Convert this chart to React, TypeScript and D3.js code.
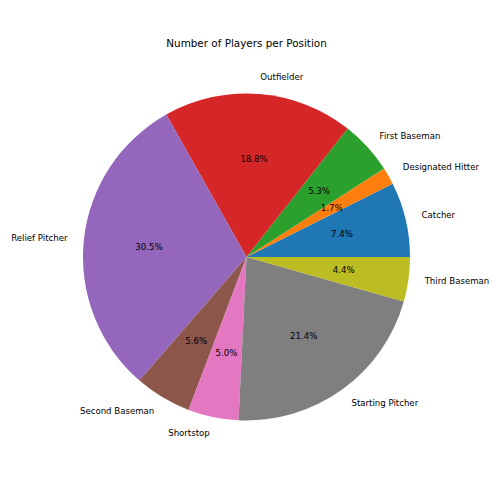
import * as d3 from "d3";

const positions = [
  "Catcher",
  "Designated Hitter",
  "First Baseman",
  "Outfielder",
  "Relief Pitcher",
  "Second Baseman",
  "Shortstop",
  "Starting Pitcher",
  "Third Baseman",
];
const shares = [7.4, 1.7, 5.3, 18.8, 30.5, 5.6, 5.0, 21.4, 4.4];
const colors = [
  "#1f77b4",
  "#ff7f0e",
  "#2ca02c",
  "#d62728",
  "#9467bd",
  "#8c564b",
  "#e377c2",
  "#7f7f7f",
  "#bcbd22",
];

const W = 500;
const H = 500;
const cx = 246.5;
const cy = 257;
const radius = 163.5;
const font = "'DejaVu Sans', sans-serif";

export default function App() {
  const rows = positions.map((name, i) => ({ name, value: shares[i], color: colors[i] }));
  const total = d3.sum(shares);

  // start at 3 o'clock and go counterclockwise, like matplotlib
  const angle = d3
    .scaleLinear()
    .domain([0, total])
    .range([0, 2 * Math.PI]);

  let acc = 0;
  const slices = rows.map((r) => {
    const a0 = angle(acc);
    acc += r.value;
    const a1 = angle(acc);
    return { ...r, a0, a1 };
  });

  // d3.arc measures clockwise from 12 o'clock, so convert
  const arc = d3
    .arc<{ a0: number; a1: number }>()
    .innerRadius(0)
    .outerRadius(radius)
    .startAngle((d) => Math.PI / 2 - d.a1)
    .endAngle((d) => Math.PI / 2 - d.a0);

  return (
    <svg width={W} height={H} style={{ display: "block", margin: -8 }}>
      <rect width={W} height={H} fill="#fff" />
      <text
        x={cx}
        y={44}
        textAnchor="middle"
        dominantBaseline="middle"
        fontSize={10.4}
        fontFamily={font}
        fill="#000"
      >
        Number of Players per Position
      </text>
      <g transform={`translate(${cx},${cy})`}>
        {slices.map((s) => (
          <path key={s.name} d={arc(s) || ""} fill={s.color} />
        ))}
        {slices.map((s) => {
          const mid = (s.a0 + s.a1) / 2;
          const lx = Math.cos(mid) * radius * 1.1;
          const ly = -Math.sin(mid) * radius * 1.1;
          const px = Math.cos(mid) * radius * 0.6;
          const py = -Math.sin(mid) * radius * 0.6;
          return (
            <g key={s.name + "-lbl"}>
              <text
                x={lx}
                y={ly}
                textAnchor={lx >= 0 ? "start" : "end"}
                dominantBaseline="middle"
                fontSize={8.6}
                fontFamily={font}
                fill="#000"
              >
                {s.name}
              </text>
              <text
                x={px}
                y={py}
                textAnchor="middle"
                dominantBaseline="middle"
                fontSize={8.6}
                fontFamily={font}
                fill="#000"
              >
                {s.value.toFixed(1)}%
              </text>
            </g>
          );
        })}
      </g>
    </svg>
  );
}
